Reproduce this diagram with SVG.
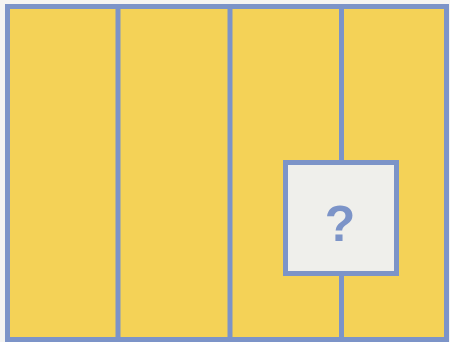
<svg xmlns="http://www.w3.org/2000/svg" width="450" height="342" viewBox="0 0 450 342">
<style>
.ln{stroke:#7c94c8;stroke-width:5}
.board{fill:#f4d257}
.box{fill:#efefeb}
</style>
<rect width="450" height="342" fill="#f4f4f2"/>
<g id="board">
<rect x="7.5" y="6.5" width="439" height="333" class="ln board"/>
</g>
<g id="connectors">
<line class="ln" x1="118" y1="6.5" x2="118" y2="339.5"/>
<line class="ln" x1="230" y1="6.5" x2="230" y2="339.5"/>
<line class="ln" x1="341.5" y1="6.5" x2="341.5" y2="339.5"/>
</g>
<g id="unknown">
<rect x="285.5" y="162.5" width="111" height="111" class="ln box"/>
<text x="340" y="241" font-family="Liberation Sans, Arial, sans-serif" font-weight="bold" font-size="50" fill="#7c94c8" text-anchor="middle">?</text>
</g>
</svg>
